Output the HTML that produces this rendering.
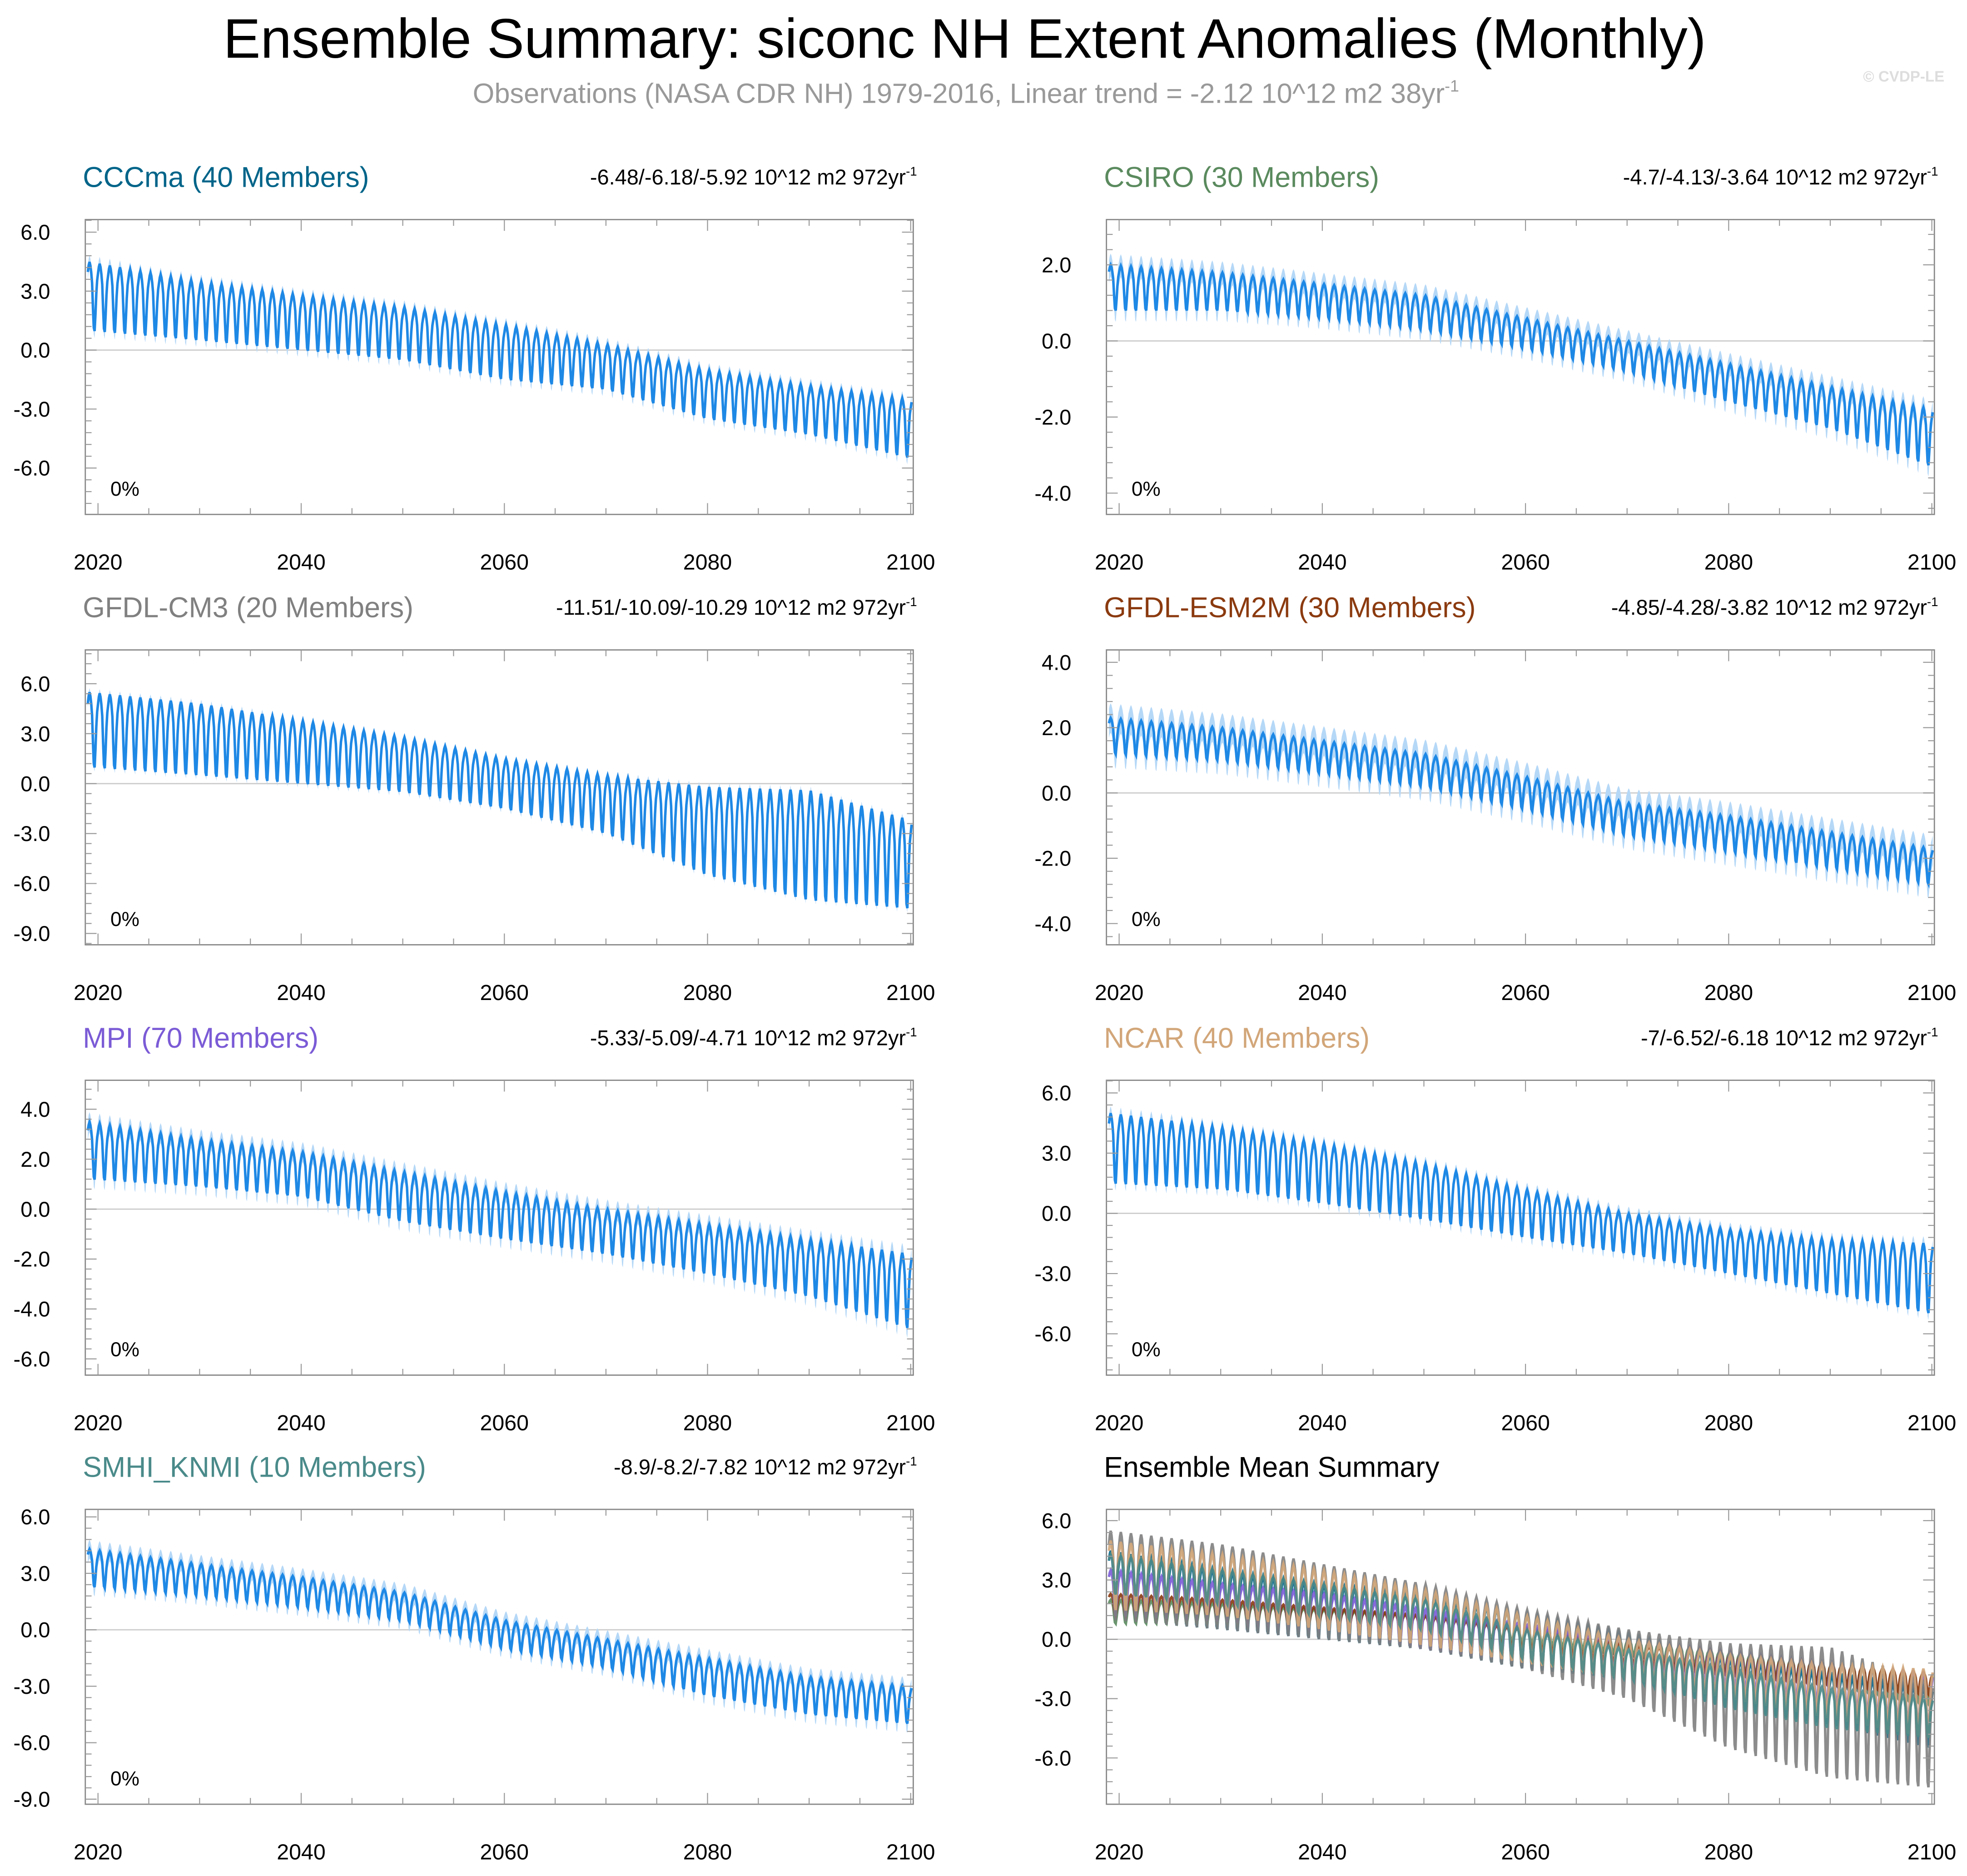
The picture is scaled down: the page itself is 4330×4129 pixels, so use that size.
<!DOCTYPE html>
<html><head><meta charset="utf-8"><style>
html,body{margin:0;padding:0;background:#fff}
svg{display:block}
text{font-family:"Liberation Sans",sans-serif}
</style></head><body>
<svg id="fig" xmlns="http://www.w3.org/2000/svg" width="4330" height="4129" viewBox="0 0 1568 1495.2" preserveAspectRatio="none">
<rect width="1568" height="1495.2" fill="#fff"/>
<text x="769" y="46" font-size="44.5" text-anchor="middle" fill="#000">Ensemble Summary: siconc NH Extent Anomalies (Monthly)</text>
<text x="770" y="82" font-size="22.2" text-anchor="middle" fill="#999">Observations (NASA CDR NH) 1979-2016, Linear trend = -2.12 10^12 m2 38yr<tspan font-size="13" dy="-9">-1</tspan></text>
<text x="1550" y="65" font-size="12" font-weight="bold" text-anchor="end" fill="#ddd">© CVDP-LE</text>
<g id="panels"></g>
</svg>
<script>
// shared data
const knotYears = [2019, 2030, 2040, 2050, 2060, 2070, 2080, 2090, 2100];
const seasonShape = [0.85, 0.95, 1, 0.95, 0.85, 0.7, 0.35, 0.05, 0, 0.25, 0.55, 0.75];
const xTicks = [2020, 2040, 2060, 2080, 2100];

const cccmaHi = [4.5, 3.5, 2.8, 2.2, 1.3, 0.3, -1.0, -1.8, -2.5];
const cccmaLo = [1.0, 0.5, 0.0, -0.5, -1.5, -2.0, -3.5, -4.3, -5.5];
const csiroHi = [2.0, 1.8, 1.5, 1.2, 0.6, 0.0, -0.6, -1.2, -1.8];
const csiroLo = [0.8, 0.8, 0.6, 0.3, -0.2, -0.8, -1.6, -2.3, -3.3];
const cm3Hi = [5.5, 4.8, 3.8, 2.8, 1.5, 0.5, -0.2, -0.4, -2.2];
const cm3Lo = [1.0, 0.5, 0.0, -0.5, -1.5, -3.0, -5.5, -7.0, -7.5];
const esmHi = [2.3, 2.0, 1.6, 1.2, 0.5, -0.3, -0.7, -1.2, -1.7];
const esmLo = [1.2, 1.0, 0.6, 0.2, -0.5, -1.3, -1.8, -2.3, -2.8];
const mpiHi = [3.5, 2.8, 2.3, 1.5, 0.7, 0.0, -0.6, -1.2, -1.8];
const mpiLo = [1.2, 0.9, 0.5, -0.5, -1.2, -1.8, -2.6, -3.5, -4.8];
const ncarHi = [5.0, 4.3, 3.5, 2.5, 1.2, 0.0, -0.8, -1.3, -1.5];
const ncarLo = [1.5, 1.2, 0.5, -0.3, -1.2, -2.0, -3.0, -4.0, -5.0];
const smhiHi = [4.3, 3.5, 2.8, 2.0, 0.5, -0.5, -1.5, -2.5, -3.0];
const smhiLo = [2.3, 1.8, 1.2, 0.5, -1.0, -2.0, -3.5, -4.5, -5.0];

const panelDefs = [
 {name:'CCCma (40 Members)', color:'#006489', stats:'-6.48/-6.18/-5.92', hi:cccmaHi, lo:cccmaLo, spread:0.35, y0:6.64, y1:-8.36, ticks:[6,3,0,-3,-6], step:3, col:0, row:0},
 {name:'CSIRO (30 Members)', color:'#5a8a5e', stats:'-4.7/-4.13/-3.64', hi:csiroHi, lo:csiroLo, spread:0.3, y0:3.19, y1:-4.56, ticks:[2,0,-2,-4], step:2, col:1, row:0},
 {name:'GFDL-CM3 (20 Members)', color:'#808080', stats:'-11.51/-10.09/-10.29', hi:cm3Hi, lo:cm3Lo, spread:0.25, y0:8.03, y1:-9.68, ticks:[6,3,0,-3,-6,-9], step:3, col:0, row:1},
 {name:'GFDL-ESM2M (30 Members)', color:'#8b3a0f', stats:'-4.85/-4.28/-3.82', hi:esmHi, lo:esmLo, spread:0.45, y0:4.38, y1:-4.65, ticks:[4,2,0,-2,-4], step:2, col:1, row:1},
 {name:'MPI (70 Members)', color:'#7b5bd6', stats:'-5.33/-5.09/-4.71', hi:mpiHi, lo:mpiLo, spread:0.4, y0:5.16, y1:-6.65, ticks:[4,2,0,-2,-4,-6], step:2, col:0, row:2},
 {name:'NCAR (40 Members)', color:'#d2a679', stats:'-7/-6.52/-6.18', hi:ncarHi, lo:ncarLo, spread:0.35, y0:6.63, y1:-8.06, ticks:[6,3,0,-3,-6], step:3, col:1, row:2},
 {name:'SMHI_KNMI (10 Members)', color:'#4a8a8a', stats:'-8.9/-8.2/-7.82', hi:smhiHi, lo:smhiLo, spread:0.5, y0:6.4, y1:-9.27, ticks:[6,3,0,-3,-6,-9], step:3, col:0, row:3}
];
const ensDef = {y0:6.57, y1:-8.34, ticks:[6,3,0,-3,-6], step:3, col:1, row:3};

const NS = 'http://www.w3.org/2000/svg';
const root = document.getElementById('panels');
const colX = [68, 882], rowY = [175, 518, 861, 1203];
const PW = 660, PH = 235, XMIN = 2018.75, XMAX = 2100.25;

function mk(tag, attrs, parent){
  const e = document.createElementNS(NS, tag);
  for (const k in attrs) e.setAttribute(k, attrs[k]);
  parent.appendChild(e);
  return e;
}
function interp(arr, yr){
  for (let i=0;i<knotYears.length-1;i++){
    if (yr<=knotYears[i+1]){
      const t=(yr-knotYears[i])/(knotYears[i+1]-knotYears[i]);
      return arr[i]+(arr[i+1]-arr[i])*t;
    }
  }
  return arr[arr.length-1];
}
function monthly(hi, lo){
  const pts=[];
  for (let y=2019;y<=2100;y++) for (let m=0;m<12;m++){
    const t=y+m/12;
    if (t>2100.1) break;
    const h=interp(hi,t), l=interp(lo,t);
    pts.push([t, l+(h-l)*seasonShape[m]]);
  }
  return pts;
}

function axes(def, g){
  const X0=colX[def.col], Y0=rowY[def.row];
  const sx = v => X0 + (v-XMIN)/(XMAX-XMIN)*PW;
  const sy = v => Y0 + (def.y0-v)/(def.y0-def.y1)*PH;
  const zl = mk('line',{x1:X0,x2:X0+PW,y1:sy(0),y2:sy(0),stroke:'#ccc','stroke-width':1},g);
  
  
  return {X0,Y0,sx,sy};
}
function frame(def, g, ax){
  const {X0,Y0,sx,sy}=ax;
  const box = mk('rect',{x:X0,y:Y0,width:PW,height:PH,fill:'none',stroke:'#888','stroke-width':1},g);
  
  
  const tg = mk('g',{stroke:'#999','stroke-width':0.8},g);
  for (let yr=2020; yr<=2100; yr+=5){
    const L = yr%20===0?9:5, x=sx(yr);
    mk('line',{x1:x,x2:x,y1:Y0+PH,y2:Y0+PH-L},tg);
    mk('line',{x1:x,x2:x,y1:Y0,y2:Y0+L},tg);
  }
  const minor=def.step/5;
  for (let v=Math.ceil(def.y1/minor)*minor; v<=def.y0; v+=minor){
    const isMaj = Math.abs(v/def.step-Math.round(v/def.step))<1e-6;
    const L=isMaj?9:5, y=sy(v);
    mk('line',{x1:X0,x2:X0+L,y1:y,y2:y},tg);
    mk('line',{x1:X0+PW,x2:X0+PW-L,y1:y,y2:y},tg);
  }
  def.ticks.forEach(v=>{
    const t=mk('text',{x:X0-28,y:sy(v)+6,'font-size':17,'text-anchor':'end',fill:'#000'},g);
    t.textContent=v.toFixed(1);
    
    
  });
  xTicks.forEach(v=>{
    const t=mk('text',{x:sx(v),y:Y0+PH+44,'font-size':17.5,'text-anchor':'middle',fill:'#000'},g);
    t.textContent=v;
    
    
  });
}

panelDefs.forEach(def=>{
  const g = mk('g',{},root);
  
  
  const ax = axes(def,g);
  const pts = monthly(def.hi, def.lo);
  let up='', dn='';
  pts.forEach(p=>{ up+=ax.sx(p[0]).toFixed(2)+','+ax.sy(p[1]+def.spread).toFixed(2)+' '; });
  for (let i=pts.length-1;i>=0;i--){ const p=pts[i]; dn+=ax.sx(p[0]).toFixed(2)+','+ax.sy(p[1]-def.spread).toFixed(2)+' '; }
  const band = mk('polygon',{points:up+dn,fill:'#b5d8f7',stroke:'none'},g);
  
  
  const line = mk('polyline',{points:pts.map(p=>ax.sx(p[0]).toFixed(2)+','+ax.sy(p[1]).toFixed(2)).join(' '),fill:'none',stroke:'#1e88e5','stroke-width':2},g);
  
  
  frame(def,g,ax);
  const t=mk('text',{x:ax.X0-2,y:ax.Y0-26,'font-size':22.7,fill:def.color},g);
  t.textContent=def.name;
  
  
  const s=mk('text',{x:ax.X0+PW+3,y:ax.Y0-28,'font-size':17,'text-anchor':'end',fill:'#000'},g);
  s.innerHTML=def.stats+' 10^12 m2 972yr<tspan font-size="10" dy="-7">-1</tspan>';
  
  
  const pc=mk('text',{x:ax.X0+20,y:ax.Y0+PH-15,'font-size':16,fill:'#000'},g);
  pc.textContent='0%';
  
  
});

// ensemble mean summary
(function(){
  const g = mk('g',{},root);
  
  
  const ax = axes(ensDef,g);
  const order=[0,1,3,4,2,5,6];
  order.forEach(i=>{
    const def=panelDefs[i];
    const pts=monthly(def.hi,def.lo);
    const l=mk('polyline',{points:pts.map(p=>ax.sx(p[0]).toFixed(2)+','+ax.sy(p[1]).toFixed(2)).join(' '),fill:'none',stroke:def.color,'stroke-width':2,'stroke-opacity':0.9},g);
    
    
  });
  frame(ensDef,g,ax);
  const t=mk('text',{x:ax.X0-2,y:ax.Y0-26,'font-size':22.7,fill:'#000'},g);
  t.textContent='Ensemble Mean Summary';
  
  
})();
</script>
</body></html>
